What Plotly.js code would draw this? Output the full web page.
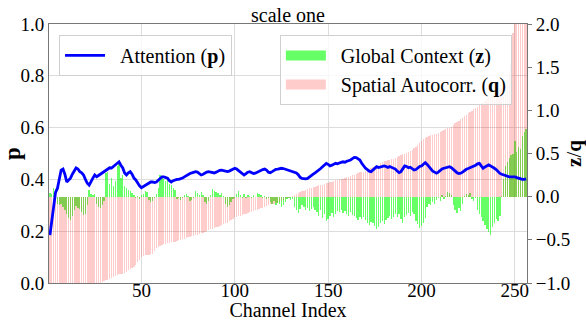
<!DOCTYPE html>
<html>
<head>
<meta charset="utf-8">
<script src="https://cdn.plot.ly/plotly-3.0.1.min.js"></script>
<style>html,body{margin:0;padding:0;background:#fff;}#chart{width:586px;height:321px;}</style>
</head>
<body>
<div id="chart"></div>
<script>
// Channel indices 1..256
const channels = [];
for (let i = 1; i <= 256; i++) channels.push(i);

// Attention p (left axis)
const attentionP = [
0.185,0.24,0.28,0.35,0.365,0.40,0.436,0.44,0.42,0.39,
0.40,0.405,0.42,0.435,0.444,0.44,0.43,0.425,0.417,0.40,
0.385,0.378,0.395,0.405,0.417,0.41,0.415,0.42,0.425,0.43,
0.436,0.44,0.445,0.444,0.45,0.456,0.46,0.468,0.455,0.444,
0.425,0.417,0.425,0.43,0.42,0.405,0.398,0.385,0.375,0.368,
0.372,0.378,0.382,0.385,0.39,0.39,0.388,0.39,0.398,0.405,
0.41,0.41,0.408,0.405,0.395,0.39,0.395,0.398,0.40,0.40,
0.402,0.405,0.41,0.415,0.42,0.423,0.425,0.428,0.43,0.428,
0.422,0.417,0.42,0.425,0.428,0.43,0.428,0.425,0.425,0.428,
0.432,0.435,0.436,0.434,0.43,0.43,0.432,0.436,0.44,0.443,
0.44,0.435,0.43,0.422,0.417,0.422,0.428,0.43,0.426,0.423,
0.424,0.428,0.433,0.436,0.438,0.44,0.436,0.428,0.426,0.43,
0.436,0.439,0.44,0.442,0.443,0.442,0.44,0.437,0.434,0.432,
0.43,0.428,0.425,0.418,0.408,0.404,0.402,0.402,0.404,0.41,
0.417,0.42,0.425,0.43,0.436,0.442,0.449,0.455,0.462,0.458,
0.452,0.455,0.46,0.462,0.46,0.464,0.466,0.468,0.466,0.47,
0.472,0.475,0.48,0.485,0.484,0.48,0.475,0.462,0.45,0.443,
0.438,0.432,0.43,0.436,0.442,0.449,0.446,0.448,0.45,0.452,
0.45,0.446,0.45,0.447,0.445,0.44,0.432,0.426,0.43,0.44,
0.452,0.45,0.445,0.447,0.442,0.436,0.438,0.444,0.45,0.452,
0.458,0.465,0.458,0.449,0.44,0.432,0.428,0.424,0.428,0.435,
0.44,0.443,0.445,0.447,0.449,0.445,0.438,0.43,0.426,0.423,
0.424,0.428,0.434,0.439,0.442,0.445,0.448,0.449,0.455,0.46,
0.462,0.452,0.443,0.448,0.453,0.456,0.452,0.446,0.443,0.438,
0.43,0.423,0.42,0.417,0.414,0.412,0.41,0.41,0.411,0.41,
0.407,0.404,0.402,0.40,0.40,0.402
];

// Global context z (right axis)
const globalZ = [
0.04,0.03,0.10,0.09,-0.08,-0.10,-0.09,-0.12,-0.15,-0.20,
-0.25,-0.27,-0.22,-0.15,-0.11,-0.13,-0.14,-0.18,-0.21,-0.20,
-0.10,0.08,0.03,0.02,0.03,-0.08,-0.12,-0.13,-0.10,-0.05,
0.27,0.28,0.15,0.22,0.12,0.18,0.35,0.39,0.22,0.25,
0.12,0.10,0.08,0.06,0.04,0.02,-0.02,0.01,-0.03,0.02,
0.03,0.06,0.05,-0.04,-0.06,-0.05,-0.02,0.03,0.10,0.25,
0.22,0.20,0.18,0.20,0.15,0.13,0.10,0.08,-0.03,-0.02,
-0.04,-0.01,0.02,0.03,0.01,-0.05,-0.04,-0.02,0.06,0.04,
0.02,0.05,0.02,-0.06,-0.08,-0.05,0.02,0.09,0.07,0.05,
0.04,0.02,0.04,0.01,-0.08,-0.12,-0.10,-0.06,-0.03,-0.02,
0.03,0.07,0.02,-0.02,0.03,-0.01,0.02,0.01,-0.02,0.02,
0.00,0.04,0.03,0.02,-0.02,0.01,-0.03,-0.01,-0.06,-0.08,
-0.05,-0.10,-0.07,-0.09,-0.12,-0.10,-0.06,-0.03,-0.02,-0.04,
-0.03,-0.12,-0.15,-0.19,-0.14,-0.10,-0.12,-0.16,-0.13,-0.17,
-0.14,-0.12,-0.15,-0.18,-0.22,-0.16,-0.25,-0.20,-0.28,-0.26,
-0.22,-0.19,-0.23,-0.20,-0.17,-0.18,-0.15,-0.19,-0.17,-0.20,
-0.22,-0.18,-0.21,-0.22,-0.25,-0.27,-0.23,-0.26,-0.24,-0.27,
-0.30,-0.33,-0.29,-0.31,-0.34,-0.37,-0.35,-0.30,-0.28,-0.32,
-0.27,-0.25,-0.22,-0.26,-0.24,-0.20,-0.23,-0.20,-0.26,-0.30,
-0.24,-0.21,-0.19,-0.22,-0.18,-0.20,-0.28,-0.32,-0.36,-0.34,
-0.30,-0.25,-0.12,-0.08,-0.10,-0.06,-0.09,-0.04,-0.02,-0.05,
0.02,-0.03,0.01,0.05,0.04,0.02,-0.10,-0.15,-0.19,-0.13,
-0.17,-0.08,0.01,0.03,0.02,0.04,-0.03,-0.05,-0.02,-0.15,
-0.20,-0.24,-0.28,-0.33,-0.37,-0.41,-0.44,-0.35,-0.30,-0.26,
-0.28,-0.22,0.01,0.20,0.35,0.40,0.45,0.48,0.50,0.65,
0.52,0.58,0.55,0.70,0.75,0.78
];

// Spatial autocorrelation q (right axis), sorted ascending
const spatialQ = [
-1.60,-1.45,-1.38,-1.32,-1.28,-1.25,-1.22,-1.20,-1.18,-1.16,
-1.14,-1.13,-1.12,-1.10,-1.09,-1.08,-1.07,-1.06,-1.05,-1.05,
-1.04,-1.03,-1.03,-1.02,-1.02,-1.01,-1.01,-1.00,-0.99,-0.98,
-0.97,-0.96,-0.95,-0.94,-0.93,-0.92,-0.91,-0.90,-0.89,-0.89,
-0.88,-0.87,-0.85,-0.84,-0.83,-0.81,-0.79,-0.76,-0.73,-0.70,
-0.69,-0.68,-0.67,-0.67,-0.66,-0.66,-0.63,-0.60,-0.58,-0.57,
-0.56,-0.55,-0.55,-0.54,-0.54,-0.53,-0.53,-0.52,-0.51,-0.50,
-0.50,-0.49,-0.49,-0.48,-0.47,-0.47,-0.46,-0.45,-0.44,-0.44,
-0.43,-0.42,-0.42,-0.41,-0.40,-0.39,-0.38,-0.37,-0.36,-0.35,
-0.35,-0.34,-0.33,-0.32,-0.31,-0.30,-0.28,-0.27,-0.26,-0.24,
-0.23,-0.22,-0.22,-0.21,-0.20,-0.20,-0.19,-0.18,-0.18,-0.17,
-0.16,-0.15,-0.14,-0.13,-0.13,-0.12,-0.11,-0.10,-0.09,-0.09,
-0.08,-0.07,-0.07,-0.06,-0.05,-0.04,-0.03,-0.02,-0.01,0.00,
0.01,0.02,0.03,0.04,0.05,0.06,0.07,0.08,0.09,0.10,
0.10,0.11,0.11,0.12,0.13,0.14,0.14,0.15,0.16,0.16,
0.17,0.17,0.18,0.19,0.19,0.20,0.21,0.21,0.22,0.23,
0.23,0.24,0.25,0.25,0.26,0.27,0.28,0.29,0.29,0.30,
0.31,0.32,0.33,0.34,0.35,0.36,0.37,0.39,0.40,0.41,
0.41,0.42,0.43,0.44,0.44,0.45,0.46,0.47,0.48,0.49,
0.50,0.51,0.52,0.53,0.54,0.56,0.58,0.60,0.62,0.64,
0.67,0.68,0.69,0.70,0.71,0.72,0.73,0.73,0.74,0.75,
0.76,0.77,0.78,0.79,0.80,0.81,0.83,0.85,0.87,0.88,
0.90,0.91,0.93,0.95,0.97,0.98,0.99,1.01,1.03,1.04,
1.06,1.08,1.09,1.11,1.13,1.14,1.16,1.18,1.19,1.21,
1.22,1.24,1.26,1.28,1.31,1.35,1.42,1.52,1.90,2.10,
2.30,2.50,2.70,2.95,3.20,3.60
];

const xTicks = [50, 100, 150, 200, 250];
const pTicks = [0, 0.2, 0.4, 0.6, 0.8, 1.0];
const zqTicks = [-1.0, -0.5, 0, 0.5, 1.0, 1.5, 2.0];

const FONT = '"Liberation Serif", serif';
const GREEN = 'rgba(0,255,0,0.6)';
const PINK = 'rgba(255,0,0,0.2)';
const GAP = '\u00A0\u00A0';

const traces = [
  {type:'bar', x:channels, y:globalZ, yaxis:'y', marker:{color:GREEN, line:{width:0}}, width:0.7, showlegend:false, hoverinfo:'skip'},
  {type:'bar', x:channels, y:spatialQ, yaxis:'y', marker:{color:PINK, line:{width:0}}, width:0.7, showlegend:false, hoverinfo:'skip'},
  {type:'scatter', mode:'lines', x:[null], y:[null], yaxis:'y', line:{color:'#66ff66', width:14}, name:GAP + 'Global Context (<b>z</b>)', legend:'legend2'},
  {type:'scatter', mode:'lines', x:[null], y:[null], yaxis:'y', line:{color:'#ffcccc', width:14}, name:GAP + 'Spatial Autocorr. (<b>q</b>)', legend:'legend2'},
  {type:'scatter', mode:'lines', x:channels, y:attentionP, yaxis:'y2', line:{color:'#0000ff', width:2.8}, name:GAP + 'Attention (<b>p</b>)', legend:'legend'}
];

const layout = {
  width:586, height:321,
  margin:{l:49, r:59, t:24, b:38},
  paper_bgcolor:'#fff', plot_bgcolor:'#fff',
  font:{family:FONT, size:20, color:'#000'},
  barmode:'overlay', bargap:0,
  title:{text:'scale one', font:{family:FONT, size:20, color:'#000'}, x:0.5, xref:'paper', xanchor:'center', y:1, yref:'paper', yanchor:'bottom', pad:{b:2}},
  xaxis:{range:[0.5,256.5], tickvals:xTicks, ticks:'', ticklabelstandoff:-10,
         showgrid:true, gridcolor:'#dcdcdc', gridwidth:1, zeroline:false,
         showline:true, linecolor:'#777', linewidth:1, mirror:true,
         tickfont:{family:FONT, size:19}, title:{text:'Channel Index', font:{family:FONT, size:20}, standoff:0}},
  yaxis:{range:[-1,2], tickvals:zqTicks, tickformat:'.1f', side:'right', showgrid:false, zeroline:false,
         ticks:'outside', ticklen:4, tickcolor:'#777', showline:true, linecolor:'#777', linewidth:1,
         tickfont:{family:FONT, size:19}, title:{text:'<b>z</b>/<b>q</b>', font:{family:FONT, size:21}, standoff:6}},
  yaxis2:{range:[0,1], tickvals:pTicks, tickformat:'.1f', side:'left', overlaying:'y', showgrid:true, gridcolor:'#dcdcdc', gridwidth:1,
          zeroline:false, ticks:'', showline:true, linecolor:'#777', linewidth:1,
          tickfont:{family:FONT, size:19}, title:{text:'<b>p</b>', font:{family:FONT, size:23}, standoff:6}},
  legend:{x:0.021, y:0.958, xanchor:'left', yanchor:'top', bgcolor:'rgba(255,255,255,0.8)', bordercolor:'#d0d0d0', borderwidth:1,
          font:{family:FONT, size:20}, itemwidth:40},
  legend2:{x:0.483, y:0.958, xanchor:'left', yanchor:'top', bgcolor:'rgba(255,255,255,0.8)', bordercolor:'#d0d0d0', borderwidth:1,
          font:{family:FONT, size:20}, itemwidth:40}
};

Plotly.newPlot('chart', traces, layout, {staticPlot:true, displayModeBar:false});
</script>
</body>
</html>
